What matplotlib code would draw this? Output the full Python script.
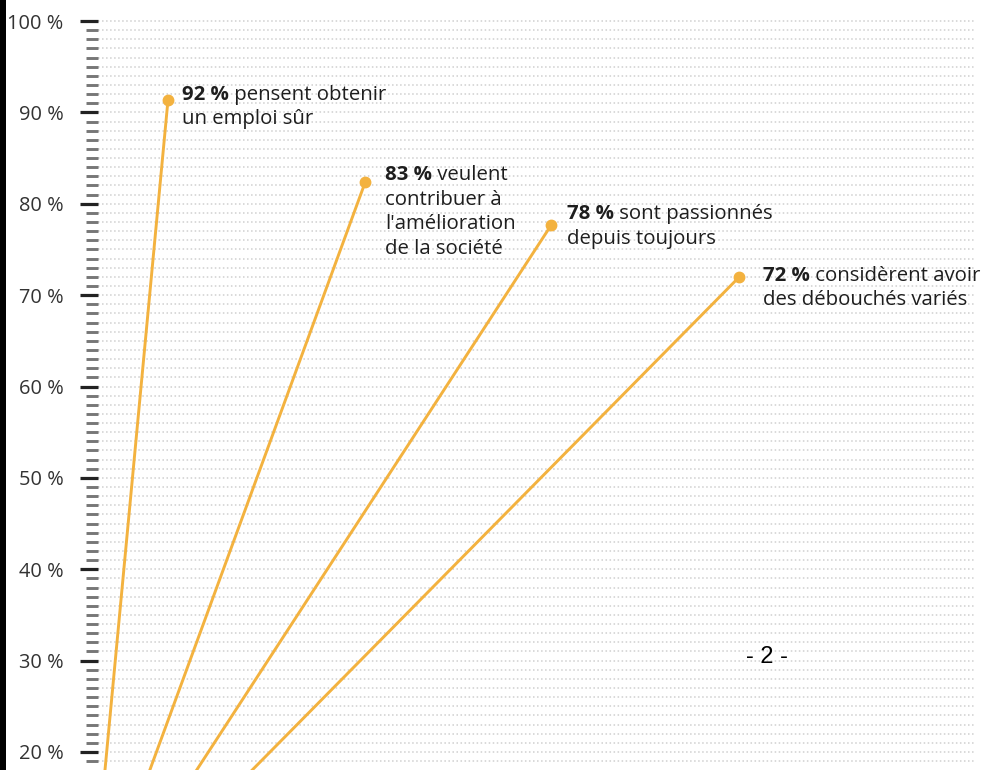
import numpy as np
import matplotlib.pyplot as plt
from matplotlib.patches import Rectangle

plt.rcParams['font.family'] = ['Open Sans', 'DejaVu Sans']
plt.rcParams['lines.scale_dashes'] = False

# survey answers (share of respondents, %)
values = [91.4, 82.4, 77.7, 72.0]
positions = [0.84, 2.95, 4.94, 6.95]
bold_labels = ['92 %', '83 %', '78 %', '72 %']
first_lines = [' pensent obtenir', ' veulent', ' sont passionnés', ' considèrent avoir']
rest_lines = [['un emploi sûr'],
              ['contribuer à', "l'amélioration", 'de la société'],
              ['depuis toujours'],
              ['des débouchés variés']]
major_ticks = [20, 30, 40, 50, 60, 70, 80, 90, 100]
tick_labels = ['20 %', '30 %', '40 %', '50 %', '60 %', '70 %', '80 %', '90 %', '100 %']

# label offsets from the dot, in points
label_dx = [10, 14, 11.5, 17]
label_dy = [0, 1, 3.8, -3]
line_step = 17.6
fs = 14.7

orange = '#F3B23F'
txt = '#1e1e1e'

fig = plt.figure(figsize=(9.88, 7.7), dpi=100)
ax = fig.add_axes([98 / 988, 0, (975 - 98) / 988, 1])
ax.set_xlim(0.091, 9.47)
ax.set_ylim(18.03, 102.30)

for sp in ax.spines.values():
    sp.set_visible(False)

ax.set_xticks([])
ax.set_yticks(major_ticks)
ax.set_yticklabels(tick_labels)
ax.set_yticks(np.arange(19, 100), minor=True)
ax.tick_params(axis='y', which='major', length=13, width=2.3, color='#222222',
               pad=12, labelsize=14.4, labelcolor='#333333')
ax.tick_params(axis='y', which='minor', length=8.6, width=2.1, color='#777777')
ax.yaxis.grid(True, which='both', linestyle=(0, (1.1, 1.8)), color='#d0d0d0', lw=1.1)
ax.set_axisbelow(True)

for x, v, b, f, rest, dx, dy in zip(positions, values, bold_labels, first_lines,
                                    rest_lines, label_dx, label_dy):
    ax.plot([0, x], [0, v], color=orange, lw=2.1, solid_capstyle='round', zorder=3)
    ax.plot(x, v, 'o', color=orange, ms=7.5, zorder=4)
    tb = ax.annotate(b, xy=(x, v), xytext=(dx, dy), textcoords='offset points',
                     fontsize=fs, fontweight='bold', color=txt, va='baseline', ha='left')
    ax.annotate(f, xy=(1, 0), xycoords=tb, xytext=(0, 0), textcoords='offset points',
                fontsize=fs, color=txt, va='bottom', ha='left')
    for k, line in enumerate(rest, start=1):
        ax.annotate(line, xy=(x, v), xytext=(dx, dy - k * line_step),
                    textcoords='offset points', fontsize=fs, color=txt,
                    va='baseline', ha='left')

fig.text(767 / 988, 1 - 657 / 770, '- 2 -', family='Liberation Sans', fontsize=17,
         color='black', ha='center', va='center')

fig.add_artist(Rectangle((0, 0), 6 / 988, 1, transform=fig.transFigure,
                         color='black', lw=0))

fig.savefig('out.png', dpi=100)
